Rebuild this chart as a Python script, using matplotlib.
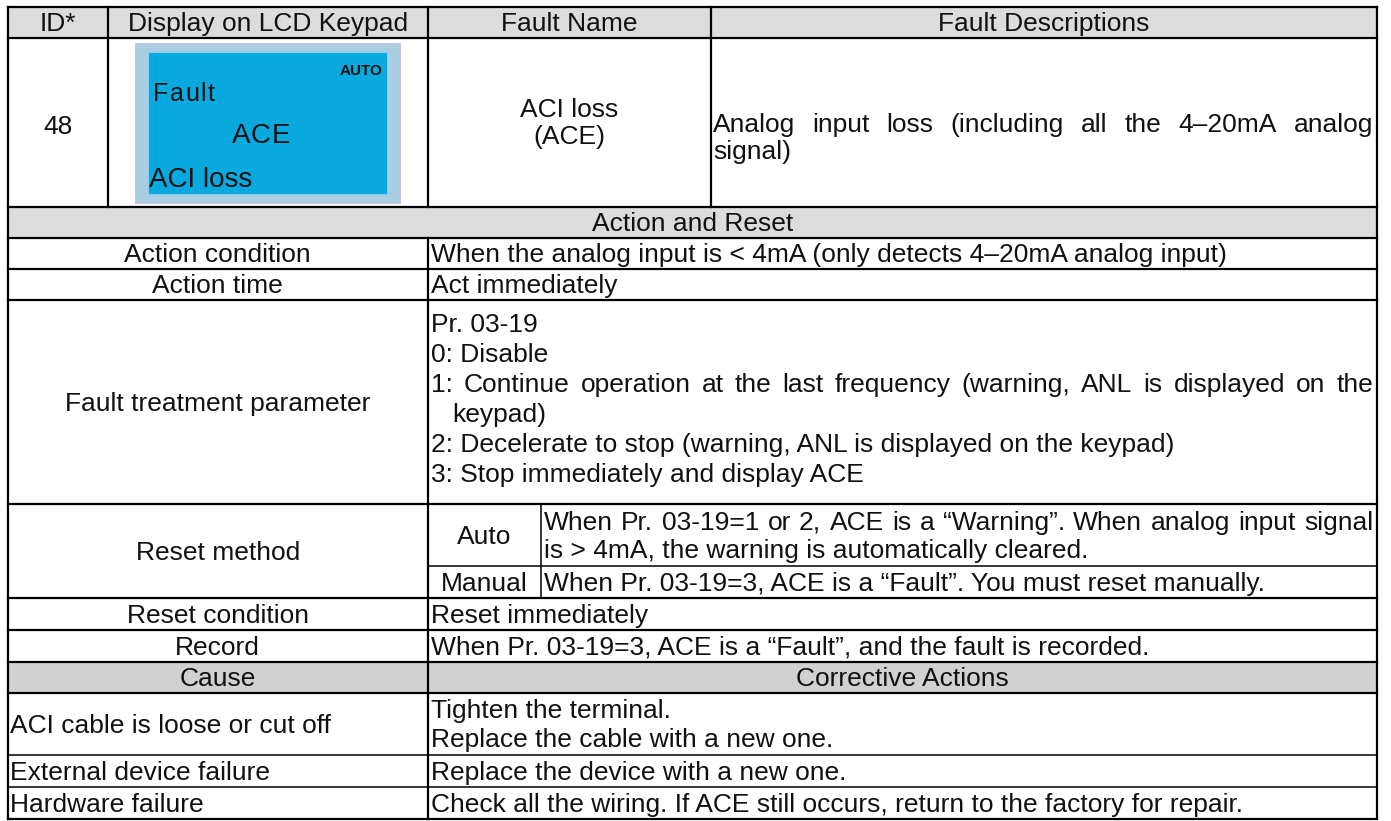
import matplotlib
matplotlib.use("Agg")
import matplotlib.pyplot as plt
from matplotlib.patches import Rectangle

plt.rcParams['font.family'] = ['Liberation Sans', 'DejaVu Sans']

W, H = 1391, 821

# ---- table content ----
header_labels = ["ID*", "Display on LCD Keypad", "Fault Name", "Fault Descriptions"]
fault_id = "48"
lcd_auto = "AUTO"
lcd_lines = ["Fault", "ACE", "ACI loss"]
fault_name = ["ACI loss", "(ACE)"]
fault_desc = ["Analog input loss (including all the 4–20mA analog", "signal)"]
section_action = "Action and Reset"
action_labels = ["Action condition", "Action time", "Fault treatment parameter",
                 "Reset method", "Reset condition", "Record"]
action_condition = "When the analog input is < 4mA (only detects 4–20mA analog input)"
action_time = "Act immediately"
treatment_lines = ["Pr. 03-19", "0: Disable",
                   "1: Continue operation at the last frequency (warning, ANL is displayed on the",
                   "keypad)",
                   "2: Decelerate to stop (warning, ANL is displayed on the keypad)",
                   "3: Stop immediately and display ACE"]
reset_modes = ["Auto", "Manual"]
reset_auto = ["When Pr. 03-19=1 or 2, ACE is a \u201cWarning\u201d. When analog input signal",
              "is > 4mA, the warning is automatically cleared."]
reset_manual = "When Pr. 03-19=3, ACE is a \u201cFault\u201d. You must reset manually."
reset_condition = "Reset immediately"
record_text = "When Pr. 03-19=3, ACE is a \u201cFault\u201d, and the fault is recorded."
cause_header = ["Cause", "Corrective Actions"]
causes = ["ACI cable is loose or cut off", "External device failure", "Hardware failure"]
actions = [["Tighten the terminal.", "Replace the cable with a new one."],
           ["Replace the device with a new one."],
           ["Check all the wiring. If ACE still occurs, return to the factory for repair."]]

# ---- layout (pixels) ----
XL, XR = 7.5, 1377
C1, C2, C3 = 108, 428, 711
CSUB = 541
rows = [7, 38, 207, 238, 269, 300, 504, 566, 598, 630, 662, 693, 755, 787, 819]
FS = 19
GRAY = "#dcdcdc"
GRAY2 = "#d1d1d1"

fig = plt.figure(figsize=(W / 100, H / 100), dpi=100)
ax = fig.add_axes([0, 0, 1, 1])
ax.set_xlim(0, W)
ax.set_ylim(H, 0)
ax.axis("off")
renderer = fig.canvas.get_renderer()


def put(x, y, s, ha="left", size=FS, **kw):
    # y is the visual centre of capitals
    ax.text(x, y + size * 0.36 * 100 / 72 * 0.7 + 2, s, ha=ha, va="baseline",
            fontsize=size, color="#111111", **kw)


def width(s, size=FS, **kw):
    t = ax.text(0, 0, s, fontsize=size, **kw)
    w = t.get_window_extent(renderer).width
    t.remove()
    return w


def justify(s, x0, x1, y, size=FS):
    words = s.split(" ")
    ws = [width(w, size) for w in words]
    gap = (x1 - x0 - sum(ws)) / (len(words) - 1)
    x = x0
    for w, wd in zip(words, ws):
        put(x, y, w, size=size)
        x += wd + gap


def spaced(s, x, y, size, extra):
    for ch in s:
        put(x, y, ch, size=size)
        x += width(ch, size) + extra


def mid(i):
    return (rows[i] + rows[i + 1]) / 2


# ---- fills ----
for i, col in [(0, GRAY), (2, GRAY), (10, GRAY2)]:
    ax.add_patch(Rectangle((XL, rows[i]), XR - XL, rows[i + 1] - rows[i], color=col, lw=0))

# ---- grid lines ----
LW = 1.6
thin = {7: 1.1, 12: 1.1, 13: 1.1}
for i, y in enumerate(rows):
    if i == 7:
        ax.plot([C2, XR], [y, y], color="black", lw=1.1)
    else:
        ax.plot([XL, XR], [y, y], color="black", lw=thin.get(i, LW))
ax.plot([XL, XL], [rows[0], rows[-1]], color="black", lw=LW)
ax.plot([XR, XR], [rows[0], rows[-1]], color="black", lw=LW)
for x in (C1, C2, C3):
    ax.plot([x, x], [rows[0], rows[2]], color="black", lw=LW)
ax.plot([C2, C2], [rows[3], rows[-1]], color="black", lw=LW)
ax.plot([CSUB, CSUB], [rows[6], rows[8]], color="black", lw=1.1)

# ---- header ----
centers = [(XL + C1) / 2, (C1 + C2) / 2, (C2 + C3) / 2, (C3 + XR) / 2]
for cx, lab in zip(centers, header_labels):
    put(cx, mid(0), lab, ha="center")

# ---- fault row ----
put(centers[0], 125, fault_id, ha="center")
put(centers[2], 108, fault_name[0], ha="center")
put(centers[2], 135, fault_name[1], ha="center")
justify(fault_desc[0], C3 + 2, XR - 4, 123)
put(C3 + 2, 150, fault_desc[1])

# LCD panel
ax.add_patch(Rectangle((135, 43), 265, 160, facecolor="#a9cee2", edgecolor="#c4c4e4", lw=0.8))
ax.add_patch(Rectangle((148, 52), 239, 142, facecolor="#07a9df", edgecolor="#86cdee", lw=0.8))
put(383, 69, lcd_auto, ha="right", size=11, fontweight="bold")
spaced(lcd_lines[0], 153, 93, 18, 1.5)
ace_w = sum(width(c, 20) + 1 for c in lcd_lines[1]) - 1
spaced(lcd_lines[1], 261 - ace_w / 2, 134, 20, 1.0)
put(149, 178, lcd_lines[2], size=20)

# ---- action and reset ----
put((XL + XR) / 2, mid(2), section_action, ha="center")
lc = (XL + C2) / 2
put(lc, mid(3), action_labels[0], ha="center")
put(C2 + 3, mid(3), action_condition)
put(lc, mid(4), action_labels[1], ha="center")
put(C2 + 3, mid(4), action_time)

put(lc, mid(5), action_labels[2], ha="center")
step = 30
y0 = mid(5) - step * (len(treatment_lines) - 1) / 2 - 4
for k, line in enumerate(treatment_lines):
    y = y0 + k * step
    if k == 2:
        justify(line, C2 + 3, XR - 4, y)
    elif k == 3:
        put(C2 + 24, y, line)
    else:
        put(C2 + 3, y, line)

put(lc, (rows[6] + rows[8]) / 2, action_labels[3], ha="center")
put((C2 + CSUB) / 2, mid(6), reset_modes[0], ha="center")
justify(reset_auto[0], CSUB + 3, XR - 4, mid(6) - 14)
put(CSUB + 3, mid(6) + 14, reset_auto[1])
put((C2 + CSUB) / 2, mid(7), reset_modes[1], ha="center")
put(CSUB + 3, mid(7), reset_manual)

put(lc, mid(8), action_labels[4], ha="center")
put(C2 + 3, mid(8), reset_condition)
put(lc, mid(9), action_labels[5], ha="center")
put(C2 + 3, mid(9), record_text)

# ---- causes ----
put(lc, mid(10), cause_header[0], ha="center")
put((C2 + XR) / 2, mid(10), cause_header[1], ha="center")
for k, (c, acts) in enumerate(zip(causes, actions)):
    i = 11 + k
    put(XL + 3, mid(i), c)
    n = len(acts)
    for j, a in enumerate(acts):
        put(C2 + 3, mid(i) + (j - (n - 1) / 2) * 29, a)

fig.savefig("out.png", dpi=100, facecolor="white")
